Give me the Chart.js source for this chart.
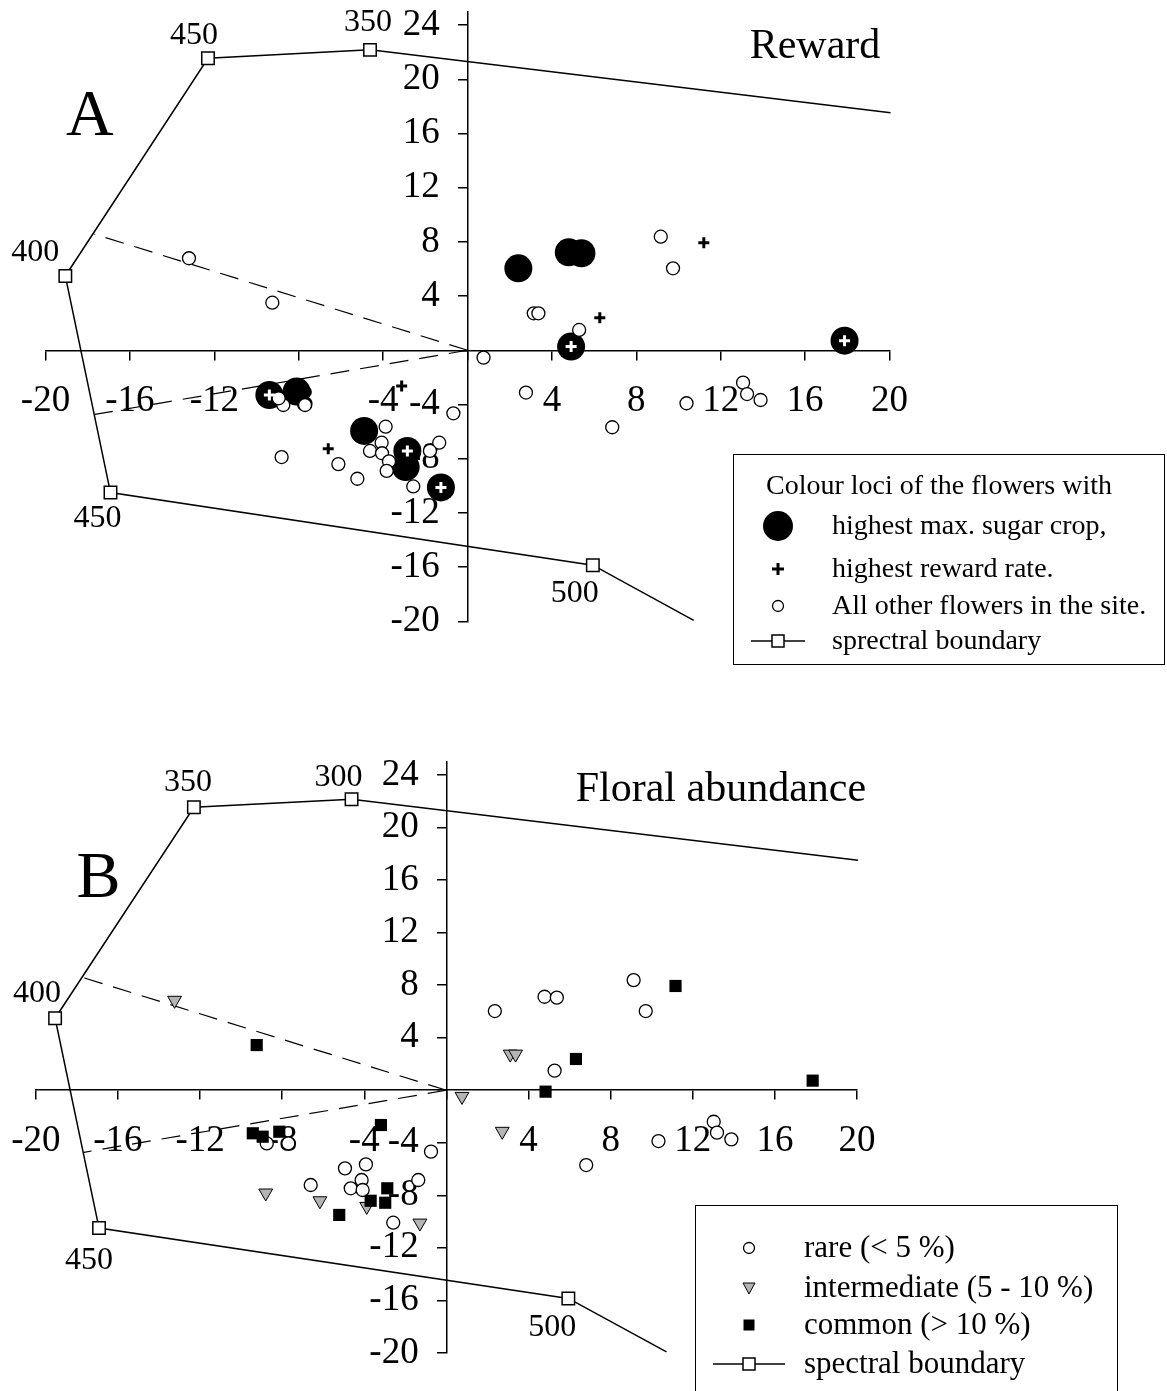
<!DOCTYPE html>
<html>
<head>
<meta charset="utf-8">
<script src="https://cdn.jsdelivr.net/npm/chart.js@4.4.1/dist/chart.umd.min.js"></script>
<style>
    body {
        margin: 0;
        width: 1167px;
        height: 1391px;
        overflow: hidden;
        background: #fff;
        position: relative;
        font-family: "Liberation Serif", "Times New Roman", serif;
    }
    canvas { position: absolute; }
    .legend {
        position: absolute;
        border: 1.5px solid #000;
        box-sizing: border-box;
        background: transparent;
    }
    .legend svg { position: absolute; left: 0; top: 0; }
    .legend span {
        position: absolute;
        white-space: nowrap;
        line-height: 1;
        transform: translateY(-54%);
    }
</style>
</head>
<body>

<canvas id="chartA" width="1207" height="740" style="left:-20px; top:-40px;"></canvas>
<canvas id="chartB" width="1207" height="720" style="left:-20px; top:700px;"></canvas>

<div class="legend" id="legendA" style="left:733px; top:454px; width:432px; height:211px; font-size:28px;"></div>
<div class="legend" id="legendB" style="left:695px; top:1205px; width:423px; height:200px; font-size:31px;"></div>

<script>
// Axis ticks
const xTicks = [-20, -16, -12, -8, -4, 0, 4, 8, 12, 16, 20];
const yTicks = [-20, -16, -12, -8, -4, 0, 4, 8, 12, 16, 20, 24];

// Spectral boundary (same loci in both panels), ends have no marker
const boundaryX = [20.05, -4.62, -12.3, -19.06, -16.92, 5.94, 10.72];
const boundaryY = [17.52, 22.17, 21.55, 5.48, -10.5, -15.86, -19.93];
const boundaryLabelsA = ['', '350', '450', '400', '450', '500', ''];
const boundaryLabelsB = ['', '300', '350', '400', '450', '500', ''];

// Dashed lines from the origin
const dashEndX = [-17.68, -17.66];
const dashEndY = [8.57, -4.73];

// Panel A: reward
const sugarX = [2.41, 4.8, 5.4, 4.91, 17.87, -9.39, -8.1, -4.9, -2.85, -2.93, -1.26];
const sugarY = [6.05, 7.23, 7.16, 0.27, 0.71, -3.3, -3.05, -5.95, -7.43, -8.62, -10.12];

const rewardX = [4.91, 6.27, 11.2, 17.87, -9.39, -3.12, -2.85, -1.26, -6.6];
const rewardY = [0.27, 2.4, 7.94, 0.71, -3.3, -2.63, -7.43, -10.12, -7.26];

const otherX = [-13.2, -9.25, 3.14, 3.36, 5.29, 9.16, 9.74, 0.76, 2.77, 13.06, 13.25, 13.89, 10.38, 6.86,
    -8.73, -7.7, -8.95, -0.67, -3.88, -4.07, -4.62, -4.05, -1.34, -1.78, -3.72, -3.83, -2.57, -5.22, -6.12, -8.81];
const otherY = [6.79, 3.51, 2.73, 2.73, 1.5, 8.38, 6.05, -0.54, -3.12, -2.39, -3.23, -3.67, -3.91, -5.68,
    -4.04, -4.04, -3.54, -4.65, -5.64, -6.82, -7.43, -7.6, -6.82, -7.43, -8.2, -8.9, -10.05, -9.48, -8.4, -7.88];

// Panel B: floral abundance
const rareX = [2.36, 4.78, 5.38, 5.27, 9.12, 9.71, 13.02, 13.18, 13.88, 10.33, 6.81,
    -8.75, -7.7, -0.75, -4.94, -3.92, -4.13, -4.66, -4.08, -1.37, -2.59, -6.61];
const rareY = [6.03, 7.12, 7.05, 1.49, 8.39, 6.03, -2.4, -3.23, -3.74, -3.87, -5.7,
    -4.05, -4.05, -4.68, -5.95, -5.65, -6.84, -7.47, -7.6, -6.84, -10.09, -7.22];

const interX = [-13.24, 3.11, 3.37, 0.76, 2.72, -3.88, -1.29, -6.16, -8.8];
const interY = [6.85, 2.75, 2.75, -0.47, -3.13, -8.85, -10.12, -8.42, -7.83];

const commonX = [-9.24, 4.83, 6.31, 11.16, 17.84, -9.43, -8.95, -8.14, -3.19, -2.88, -3.69, -2.98, -5.22];
const commonY = [3.44, -0.11, 2.38, 7.94, 0.73, -3.28, -3.54, -3.16, -2.65, -7.47, -8.42, -8.57, -9.5];

const BLACK = '#000';
const GREY = '#b4b4b4';
const SERIF = '"Liberation Serif", "Times New Roman", serif';

function points(xs, ys) {
    return xs.map((x, i) => ({ x: x, y: ys[i] }));
}

function isSugar(p) {
    return sugarX.some((x, i) => x === p.x && sugarY[i] === p.y);
}

// draws panel letter, title and the wavelength labels
const panelText = {
    id: 'panelText',
    afterDatasetsDraw(chart, args, opts) {
        const ctx = chart.ctx;
        const xs = chart.scales.x;
        const ys = chart.scales.y;
        ctx.save();
        ctx.fillStyle = BLACK;
        ctx.textAlign = 'center';
        ctx.textBaseline = 'middle';
        opts.items.forEach(t => {
            ctx.font = t.size + 'px ' + SERIF;
            ctx.fillText(t.text, xs.getPixelForValue(t.x) + (t.dx || 0), ys.getPixelForValue(t.y) + (t.dy || 0));
        });
        ctx.restore();
    }
};

function boundarySets(labels, offsets) {
    const line = {
        data: points(boundaryX, boundaryY),
        showLine: true,
        borderColor: BLACK,
        borderWidth: 1.5,
        pointStyle: 'rect',
        pointRadius: labels.map(l => l ? 8.8 : 0),
        pointBackgroundColor: '#fff',
        pointBorderColor: BLACK,
        pointBorderWidth: 1.5,
        clip: false,
        order: 10
    };
    const dashes = dashEndX.map((x, i) => ({
        data: [{ x: 0, y: 0 }, { x: x, y: dashEndY[i] }],
        showLine: true,
        borderColor: BLACK,
        borderWidth: 1.2,
        borderDash: [19, 11],
        pointRadius: 0,
        clip: false,
        order: 9
    }));
    const texts = [];
    labels.forEach((l, i) => {
        if (!l) return;
        texts.push({ text: l, x: boundaryX[i], y: boundaryY[i], dx: offsets[i][0], dy: offsets[i][1], size: 32 });
    });
    return { sets: [line].concat(dashes), texts: texts };
}

function scaleOpts(min, max, ticks, padding, label) {
    return {
        type: 'linear',
        min: min,
        max: max,
        afterBuildTicks: axis => { axis.ticks = ticks.map(v => ({ value: v })); },
        ticks: {
            callback: label,
            font: { family: SERIF, size: 37 },
            color: BLACK,
            padding: padding,
            autoSkip: false,
            maxRotation: 0
        },
        grid: { drawOnChartArea: false, drawTicks: true, tickLength: 9, color: BLACK, lineWidth: 1.5 },
        border: { display: true, color: BLACK, width: 1.5 }
    };
}

function makeChart(id, datasets, texts, pad) {
    const xScale = scaleOpts(-20, 20, xTicks, 20, v => v === 0 ? '' : String(v));
    xScale.position = { y: 0 };
    // a centred y axis ignores ticks.padding, so the gap is kept with trailing spaces
    const yScale = scaleOpts(-20, 25, yTicks, 0, v => v === 0 ? '' : v + '   ');
    yScale.position = { x: 0 };
    return new Chart(document.getElementById(id), {
        type: 'scatter',
        data: { datasets: datasets },
        options: {
            responsive: false,
            animation: false,
            devicePixelRatio: 1,
            events: [],
            layout: { padding: pad },
            scales: { x: xScale, y: yScale },
            plugins: {
                legend: { display: false },
                tooltip: { enabled: false },
                panelText: { items: texts }
            }
        },
        plugins: [panelText]
    });
}

// Panel A
const bA = boundarySets(boundaryLabelsA, [null, [-2, -27], [-14, -23], [-30, -23], [-13, 26], [-18, 28], null]);
makeChart('chartA', [
    {
        label: 'highest reward rate',
        data: points(rewardX, rewardY),
        pointStyle: 'cross',
        pointRadius: 5.5,
        pointBorderWidth: 3,
        pointBorderColor: ctx => isSugar(ctx.raw) ? '#fff' : BLACK,
        clip: false,
        order: 1
    },
    {
        label: 'All other flowers',
        data: points(otherX, otherY),
        pointStyle: 'circle',
        pointRadius: 6.5,
        pointBackgroundColor: '#fff',
        pointBorderColor: BLACK,
        pointBorderWidth: 1.3,
        clip: false,
        order: 2
    },
    {
        label: 'highest max. sugar crop',
        data: points(sugarX, sugarY),
        pointStyle: 'circle',
        pointRadius: 14,
        pointBackgroundColor: BLACK,
        pointBorderColor: BLACK,
        pointBorderWidth: 0,
        clip: false,
        order: 3
    }
].concat(bA.sets), bA.texts.concat([
    { text: 'A', x: -17.9, y: 17.2, size: 66 },
    { text: 'Reward', x: 16.47, y: 22.35, size: 42 }
]), { left: 65.5, right: 297.5, top: 51.5, bottom: 78.7 });

// Panel B
const bB = boundarySets(boundaryLabelsB, [null, [-13, -22], [-6, -25], [-18, -25], [-10, 33], [-16, 29], null]);
makeChart('chartB', [
    {
        label: 'common',
        data: points(commonX, commonY),
        pointStyle: 'rect',
        pointRadius: 8.6,
        pointBackgroundColor: BLACK,
        pointBorderColor: BLACK,
        pointBorderWidth: 0,
        clip: false,
        order: 1
    },
    {
        label: 'intermediate',
        data: points(interX, interY),
        pointStyle: 'triangle',
        pointRotation: 180,
        pointRadius: 8,
        pointBackgroundColor: GREY,
        pointBorderColor: BLACK,
        pointBorderWidth: 1,
        clip: false,
        order: 2
    },
    {
        label: 'rare',
        data: points(rareX, rareY),
        pointStyle: 'circle',
        pointRadius: 6.5,
        pointBackgroundColor: '#fff',
        pointBorderColor: BLACK,
        pointBorderWidth: 1.3,
        clip: false,
        order: 3
    }
].concat(bB.sets), bB.texts.concat([
    { text: 'B', x: -16.94, y: 16.0, size: 66 },
    { text: 'Floral abundance', x: 13.37, y: 22.86, size: 42 }
]), { left: 55.8, right: 330, top: 62, bottom: 67.2 });

// Legends
function boundarySymbol(x1, x2, y) {
    const cx = (x1 + x2) / 2;
    return `<line x1="${x1}" y1="${y}" x2="${x2}" y2="${y}" stroke="#000" stroke-width="1.5"/>` +
        `<rect x="${cx - 6}" y="${y - 6}" width="12" height="12" fill="#fff" stroke="#000" stroke-width="1.5"/>`;
}

const legendA = document.getElementById('legendA');
legendA.innerHTML = `
    <svg width="432" height="211">
        <circle cx="44" cy="71" r="15" fill="#000"/>
        <path d="M38 114 H50 M44 108 V120" stroke="#000" stroke-width="3"/>
        <circle cx="44" cy="151" r="5.5" fill="#fff" stroke="#000" stroke-width="1.3"/>
        ${boundarySymbol(17, 71, 186)}
    </svg>
    <span style="left:32px; top:31px;">Colour loci of the flowers with</span>
    <span style="left:98px; top:71px;">highest max. sugar crop,</span>
    <span style="left:98px; top:114px;">highest reward rate.</span>
    <span style="left:98px; top:151px;">All other flowers in the site.</span>
    <span style="left:98px; top:186px;">sprectral boundary</span>
`;

const legendB = document.getElementById('legendB');
legendB.innerHTML = `
    <svg width="423" height="200">
        <circle cx="53" cy="42" r="5.5" fill="#fff" stroke="#000" stroke-width="1.3"/>
        <path d="M47 77 L59 77 L53 88 Z" fill="${GREY}" stroke="#000" stroke-width="1"/>
        <rect x="47.5" y="113.5" width="11" height="11" fill="#000"/>
        ${boundarySymbol(17, 89, 158)}
    </svg>
    <span style="left:108px; top:42px;">rare (&lt; 5 %)</span>
    <span style="left:108px; top:82px;">intermediate (5 - 10 %)</span>
    <span style="left:108px; top:119px;">common (&gt; 10 %)</span>
    <span style="left:108px; top:158px;">spectral boundary</span>
`;
</script>
</body>
</html>
